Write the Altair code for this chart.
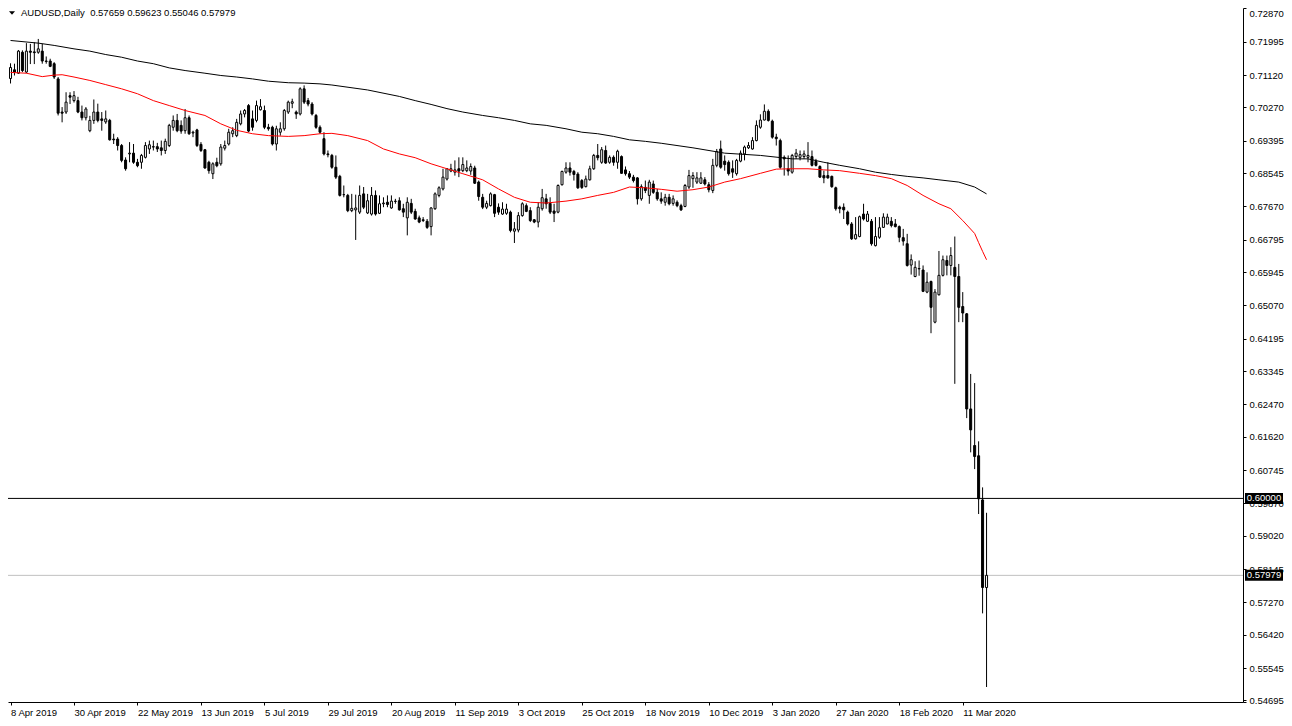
import altair as alt
import pandas as pd

# ---------------- data (AUDUSD daily candles) ----------------
open_ = [
    .7103, .7126, .7117, .7172, .7120, .7175, .7173, .7172, .7175, .7149,
    .7149, .7142, .7102, .7015, .7015, .7058, .7045, .7045, .7015, .7000,
    .6966, .6993, .7015, .6997, .6989, .6993, .6944, .6944, .6927, .6889,
    .6905, .6907, .6883, .6883, .6896, .6918, .6924, .6924, .6921, .6914,
    .6927, .6975, .6993, .6980, .6966, .7000, .6960, .6968, .6930, .6916,
    .6883, .6853, .6883, .6879, .6920, .6931, .6958, .6953, .6984, .7010,
    .7032, .6997, .6993, .7021, .7019, .6975, .6975, .6931, .6962, .6971,
    .7015, .7038, .7015, .7010, .7076, .7045, .7036, .7006, .6975, .6945,
    .6905, .6901, .6870, .6846, .6798, .6796, .6756, .6758, .6752, .6800,
    .6750, .6747, .6796, .6749, .6774, .6778, .6763, .6780, .6782, .6761,
    .6737, .6775, .6754, .6737, .6732, .6728, .6714, .6761, .6796, .6813,
    .6839, .6860, .6857, .6866, .6861, .6861, .6860, .6868, .6831, .6791,
    .6765, .6769, .6798, .6765, .6747, .6749, .6752, .6702, .6705, .6743,
    .6769, .6756, .6732, .6726, .6761, .6787, .6775, .6755, .6752, .6824,
    .6857, .6868, .6859, .6852, .6835, .6819, .6837, .6866, .6901, .6883,
    .6914, .6883, .6896, .6883, .6898, .6863, .6853, .6844, .6842, .6787,
    .6817, .6796, .6826, .6804, .6787, .6778, .6791, .6775, .6778, .6769,
    .6767, .6818, .6840, .6831, .6828, .6837, .6824, .6809, .6875, .6918,
    .6886, .6883, .6866, .6853, .6886, .6905, .6921, .6918, .6940, .6975,
    .6994, .7017, .6991, .6949, .6940, .6896, .6866, .6857, .6898, .6896,
    .6898, .6896, .6898, .6885, .6872, .6848, .6848, .6846, .6816, .6765,
    .6765, .6752, .6721, .6682, .6688, .6747, .6728, .6728, .6664, .6686,
    .6712, .6721, .6728, .6721, .6714, .6685, .6669, .6613, .6583, .6603,
    .6600, .6542, .6570, .6463, .6535, .6586, .6625, .6612, .6607, .6583,
    .6504, .6485, .6235, .6139, .6112, .5996, .57659,
]
high = [
    .7143, .7142, .7178, .7177, .7196, .7194, .7198, .7207, .7194, .7161,
    .7155, .7146, .7107, .7028, .7067, .7067, .7070, .7055, .7032, .7028,
    .7005, .7048, .7037, .7015, .7019, .6997, .6958, .6949, .6931, .6896,
    .6936, .6931, .6892, .6905, .6936, .6940, .6940, .6934, .6940, .6945,
    .6984, .7006, .7010, .6993, .7023, .7006, .6966, .6971, .6936, .6918,
    .6887, .6883, .6895, .6931, .6940, .6971, .6975, .6997, .7019, .7023,
    .7036, .7019, .7045, .7049, .7032, .6984, .6979, .6979, .6988, .7023,
    .7045, .7050, .7019, .7080, .7085, .7052, .7041, .7010, .6980, .6962,
    .6914, .6905, .6901, .6850, .6822, .6800, .6800, .6798, .6822, .6818,
    .6800, .6818, .6809, .6796, .6791, .6796, .6796, .6787, .6791, .6774,
    .6791, .6787, .6761, .6743, .6739, .6734, .6765, .6804, .6820, .6866,
    .6868, .6879, .6888, .6896, .6896, .6888, .6880, .6874, .6835, .6800,
    .6782, .6804, .6800, .6775, .6778, .6774, .6756, .6726, .6752, .6778,
    .6775, .6765, .6734, .6778, .6813, .6800, .6791, .6774, .6825, .6861,
    .6883, .6883, .6863, .6857, .6839, .6848, .6874, .6905, .6931, .6923,
    .6927, .6901, .6901, .6916, .6901, .6872, .6860, .6850, .6844, .6825,
    .6835, .6837, .6835, .6813, .6804, .6800, .6800, .6796, .6783, .6774,
    .6826, .6863, .6857, .6857, .6857, .6844, .6831, .6892, .6918, .6940,
    .6901, .6888, .6888, .6892, .6914, .6927, .6936, .6949, .6993, .7009,
    .7035, .7022, .6995, .6958, .6945, .6901, .6901, .6905, .6918, .6914,
    .6914, .6936, .6914, .6892, .6875, .6861, .6883, .6848, .6819, .6769,
    .6775, .6756, .6726, .6739, .6743, .6774, .6755, .6734, .6739, .6739,
    .6749, .6748, .6739, .6734, .6717, .6708, .6695, .6641, .6623, .6625,
    .6612, .6594, .6572, .6550, .6650, .6638, .6638, .6660, .6688, .6616,
    .6542, .6487, .6327, .6303, .6150, .6029, .59623,
]
low = [
    .7090, .7111, .7115, .7120, .7117, .7141, .7141, .7168, .7142, .7142,
    .7133, .7102, .7006, .6988, .7010, .7036, .7040, .7012, .6993, .6993,
    .6962, .6984, .6988, .6966, .6984, .6940, .6931, .6914, .6883, .6861,
    .6883, .6879, .6870, .6866, .6893, .6905, .6914, .6910, .6901, .6905,
    .6923, .6966, .6962, .6958, .6958, .6955, .6949, .6923, .6910, .6866,
    .6853, .6839, .6870, .6874, .6914, .6927, .6949, .6949, .6980, .7001,
    .6962, .6966, .6988, .7019, .6970, .6966, .6927, .6914, .6953, .6966,
    .7010, .7025, .6997, .7006, .7036, .7030, .7006, .6971, .6958, .6901,
    .6896, .6866, .6839, .6793, .6791, .6752, .6752, .6679, .6747, .6760,
    .6747, .6743, .6743, .6747, .6765, .6765, .6761, .6774, .6756, .6739,
    .6691, .6747, .6732, .6723, .6726, .6708, .6691, .6758, .6791, .6809,
    .6835, .6857, .6848, .6844, .6857, .6857, .6850, .6826, .6782, .6760,
    .6760, .6767, .6739, .6745, .6745, .6745, .6699, .6671, .6699, .6740,
    .6752, .6726, .6723, .6712, .6756, .6761, .6747, .6726, .6749, .6822,
    .6853, .6848, .6835, .6813, .6813, .6817, .6835, .6863, .6888, .6879,
    .6879, .6879, .6874, .6866, .6853, .6848, .6839, .6830, .6772, .6782,
    .6802, .6774, .6800, .6782, .6774, .6769, .6770, .6769, .6765, .6755,
    .6765, .6813, .6816, .6826, .6826, .6822, .6804, .6802, .6870, .6866,
    .6861, .6848, .6842, .6848, .6883, .6888, .6918, .6916, .6938, .6971,
    .6993, .6990, .6945, .6927, .6866, .6848, .6848, .6853, .6892, .6888,
    .6892, .6883, .6872, .6872, .6842, .6828, .6840, .6816, .6756, .6749,
    .6734, .6717, .6679, .6680, .6686, .6730, .6726, .6664, .6662, .6682,
    .6711, .6720, .6712, .6712, .6673, .6664, .6609, .6588, .6581, .6585,
    .6542, .6539, .6434, .6460, .6533, .6583, .6586, .6586, .6301, .6463,
    .6463, .6211, .6121, .6077, .5959, .5698, .55046,
]
close = [
    .7132, .7120, .7175, .7124, .7175, .7172, .7171, .7181, .7149, .7148,
    .7135, .7107, .7012, .7012, .7041, .7054, .7058, .7015, .7000, .7023,
    .6993, .7015, .6993, .6993, .6997, .6942, .6942, .6927, .6888, .6866,
    .6907, .6883, .6874, .6901, .6927, .6929, .6923, .6918, .6914, .6938,
    .6980, .6993, .6966, .6965, .7000, .6958, .6962, .6927, .6914, .6868,
    .6861, .6879, .6874, .6923, .6927, .6962, .6966, .6988, .7010, .7019,
    .6965, .6975, .7032, .7029, .6975, .6971, .6931, .6971, .6971, .7019,
    .7041, .7042, .7010, .7076, .7041, .7036, .7010, .6975, .6962, .6905,
    .6903, .6870, .6844, .6796, .6798, .6756, .6762, .6763, .6796, .6765,
    .6782, .6796, .6747, .6774, .6776, .6772, .6781, .6781, .6758, .6752,
    .6778, .6752, .6734, .6726, .6730, .6712, .6763, .6800, .6816, .6844,
    .6866, .6866, .6863, .6860, .6877, .6868, .6872, .6828, .6793, .6765,
    .6775, .6800, .6749, .6752, .6760, .6760, .6704, .6708, .6743, .6774,
    .6754, .6730, .6726, .6765, .6790, .6774, .6752, .6749, .6822, .6859,
    .6868, .6857, .6851, .6816, .6817, .6839, .6866, .6901, .6895, .6916,
    .6881, .6896, .6883, .6912, .6854, .6853, .6844, .6835, .6787, .6819,
    .6809, .6831, .6804, .6787, .6781, .6791, .6774, .6787, .6769, .6758,
    .6822, .6848, .6848, .6842, .6842, .6826, .6811, .6875, .6911, .6870,
    .6877, .6853, .6857, .6888, .6907, .6923, .6927, .6940, .6980, .6994,
    .7017, .6993, .6949, .6945, .6870, .6892, .6860, .6901, .6907, .6903,
    .6905, .6901, .6875, .6875, .6844, .6842, .6842, .6819, .6761, .6761,
    .6758, .6721, .6682, .6693, .6740, .6734, .6747, .6669, .6688, .6711,
    .6739, .6739, .6717, .6714, .6686, .6676, .6612, .6627, .6607, .6604,
    .6544, .6568, .6502, .6542, .6586, .6627, .6612, .6638, .6583, .6502,
    .6487, .6235, .6180, .6110, .5999, .5766, .57979,
]

# moving averages (red = fast, black = slow), sampled at bar indices
red_idx = [0, 4, 8, 11, 13, 16, 20, 24, 28, 32, 36, 40, 44, 49, 53, 57, 61, 65, 70, 74,
           78, 81, 85, 90, 94, 98, 102, 106, 110, 114, 119, 123, 127, 131, 135, 140, 144, 148, 152, 156,
           160, 164, 168, 172, 176, 180, 184, 189, 193, 197, 201, 205, 209, 214, 218, 222, 226, 230, 234, 237,
           240, 243, 244, 245, 246]
red_val = [.7119, .7117, .7108, .7112, .7113, .7107, .7098, .7087, .7076, .7063,
           .7045, .7032, .7019, .7006, .6984, .6967, .6958, .6953, .6951, .6953,
           .6958, .6959, .6953, .6940, .6918, .6905, .6895, .6879, .6866, .6853,
           .6837, .6813, .6791, .6778, .6776, .6781, .6787, .6796, .6804, .6818,
           .6816, .6812, .6807, .6811, .6818, .6831, .6840, .6854, .6865, .6866,
           .6866, .6863, .6861, .6854, .6848, .6840, .6822, .6796, .6774, .6761,
           .6730, .6696, .6672, .6649, .6627]
black_idx = [0, 7, 11, 16, 20, 24, 28, 32, 36, 40, 44, 49, 53, 57, 61, 65, 70, 74, 78, 81,
             90, 98, 102, 106, 110, 114, 119, 123, 127, 131, 135, 140, 144, 148, 152, 156, 160, 164, 172, 180,
             189, 197, 201, 205, 209, 214, 218, 222, 226, 230, 234, 239, 243, 246]
black_val = [.7203, .7196, .7190, .7181, .7175, .7166, .7159, .7149, .7142, .7131,
             .7124, .7117, .7111, .7107, .7102, .7096, .7092, .7091, .7089, .7086,
             .7073, .7056, .7045, .7035, .7024, .7015, .7006, .7000, .6993, .6984,
             .6980, .6971, .6962, .6958, .6951, .6942, .6938, .6933, .6921, .6907,
             .6901, .6892, .6892, .6883, .6875, .6866, .6857, .6851, .6846, .6842,
             .6837, .6831, .6818, .6800]

tick_dates = ["8 Apr 2019", "30 Apr 2019", "22 May 2019", "13 Jun 2019", "5 Jul 2019",
              "29 Jul 2019", "20 Aug 2019", "11 Sep 2019", "3 Oct 2019", "25 Oct 2019",
              "18 Nov 2019", "10 Dec 2019", "3 Jan 2020", "27 Jan 2020", "18 Feb 2020",
              "11 Mar 2020"]
tick_step = 16
price_ticks = [0.54695, 0.55545, 0.56420, 0.57270, 0.58145, 0.59020, 0.59870, 0.60745,
               0.61620, 0.62470, 0.63345, 0.64195, 0.65070, 0.65945, 0.66795, 0.67670,
               0.68545, 0.69395, 0.70270, 0.71120, 0.71995, 0.72870]

level_prices = [0.60000, 0.57979]
level_labels = ["0.60000", "0.57979"]
level_colors = ["#000000", "#c0c0c0"]
header_text = "AUDUSD,Daily\u00a0\u00a00.57659 0.59623 0.55046 0.57979"

# ---------------- chart ----------------
FONT = "Liberation Sans"
FS = 9.5
W, H = 1235, 694
Y_LO, Y_HI = 0.54652, 0.72883

df = pd.DataFrame({"i": list(range(len(close))), "o": open_, "h": high, "l": low, "c": close})
df["dir"] = ["up" if c >= o else "down" for o, c in zip(open_, close)]
red_df = pd.DataFrame({"i": red_idx, "v": red_val})
black_df = pd.DataFrame({"i": black_idx, "v": black_val})
lv = pd.DataFrame({"p": level_prices, "lab": level_labels, "col": level_colors})

x_scale = alt.Scale(domain=[0.625, 309.375], nice=False, zero=False)
y_scale = alt.Scale(domain=[Y_LO, Y_HI], nice=False, zero=False)

label_expr = "[" + ",".join(f"'{d}'" for d in tick_dates) + f"][round(datum.value / {tick_step})]"
x_axis = alt.Axis(values=[tick_step * k for k in range(len(tick_dates))], labelExpr=label_expr,
                  title=None, grid=False, orient="bottom", tickSize=3, tickColor="black",
                  domainColor="black", labelAlign="left", labelBaseline="top", labelPadding=2,
                  labelFont=FONT, labelFontSize=FS, labelColor="black", labelOverlap=False,
                  labelFlush=False, labelBound=False)
# first value sits on the bottom frame edge (unlabelled) so that only the top label is flushed
y_axis = alt.Axis(values=[Y_LO] + price_ticks,
                  labelExpr=f"datum.value < {price_ticks[0] - 0.0002} ? '' : format(datum.value, '.5f')",
                  orient="right", title=None, grid=False,
                  tickSize=3, tickColor="black", domainColor="black", labelPadding=3,
                  labelFont=FONT, labelFontSize=FS, labelColor="black", labelOverlap=False,
                  labelFlush=True, labelFlushOffset=0, labelBound=False)

X = alt.X("i:Q", scale=x_scale, axis=x_axis)

levels = alt.Chart(lv).mark_rule(strokeWidth=1).encode(
    y=alt.Y("p:Q", scale=y_scale, axis=y_axis),
    color=alt.Color("col:N", scale=None),
)
wicks = alt.Chart(df).mark_rule(color="black", strokeWidth=1).encode(
    x=X, y=alt.Y("l:Q", scale=y_scale, axis=y_axis), y2="h:Q"
)
bodies = alt.Chart(df).mark_bar(size=2, stroke="black", strokeWidth=1, opacity=1).encode(
    x=X, y=alt.Y("o:Q", scale=y_scale, axis=y_axis), y2="c:Q",
    fill=alt.Fill("dir:N", scale=alt.Scale(domain=["up", "down"], range=["white", "black"]), legend=None),
)
red_line = alt.Chart(red_df).mark_line(color="#ff0000", strokeWidth=1).encode(
    x=X, y=alt.Y("v:Q", scale=y_scale, axis=y_axis)
)
black_line = alt.Chart(black_df).mark_line(color="#000000", strokeWidth=1).encode(
    x=X, y=alt.Y("v:Q", scale=y_scale, axis=y_axis)
)
BOX = "M-1,-0.29L1,-0.29L1,0.29L-1,0.29Z"
boxes = alt.Chart(lv).mark_point(shape=BOX, size=1444, filled=True, color="black", opacity=1).encode(
    x=alt.value(W + 21), y=alt.Y("p:Q", scale=y_scale, axis=y_axis)
)
box_text = alt.Chart(lv).mark_text(color="white", font=FONT, fontSize=FS, align="center",
                                   baseline="middle").encode(
    x=alt.value(W + 21), y=alt.Y("p:Q", scale=y_scale, axis=y_axis), text="lab:N"
)
hdr_df = pd.DataFrame({"t": [header_text]})
tri = alt.Chart(hdr_df).mark_point(shape="M-1,-0.6L1,-0.6L0,0.6Z", size=36, filled=True,
                                   color="black", opacity=1).encode(x=alt.value(4), y=alt.value(5))
hdr = alt.Chart(hdr_df).mark_text(align="left", baseline="middle", font=FONT, fontSize=FS,
                                  color="black").encode(x=alt.value(13), y=alt.value(4.5), text="t:N")

chart = alt.layer(levels, wicks, bodies, red_line, black_line, boxes, box_text, tri, hdr).properties(
    width=W, height=H,
    autosize=alt.AutoSizeParams(type="none"),
    padding={"left": 0, "top": 0, "right": 41, "bottom": 16},
    background="white",
).configure_view(strokeWidth=0)

chart.save("out.html", embed_options={"renderer": "svg", "actions": False})
